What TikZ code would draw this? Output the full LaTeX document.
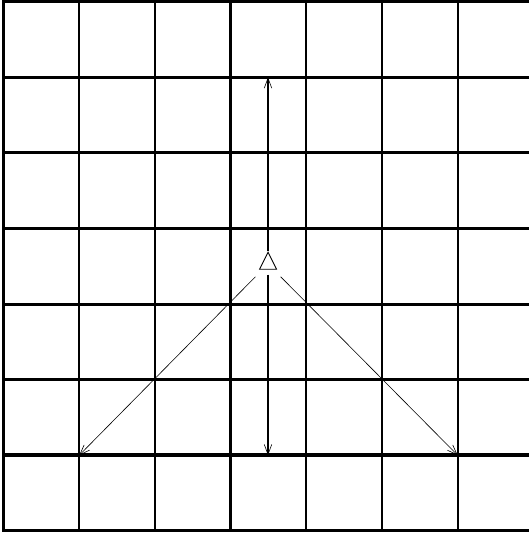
\documentclass[tikz,border=0pt]{standalone}
\usetikzlibrary{shapes.geometric,arrows.meta}
\begin{document}
\begin{tikzpicture}[x=1bp,y=-1bp,
  vgrid/.style={line width=2.3bp},
  hgrid/.style={line width=3bp},
  hgridthick/.style={line width=4bp},
  barb/.style={-{Straight Barb[length=10bp,width=7.5bp,line width=0.6bp]}},
  vert/.style={line width=2.7bp,barb},
  diag/.style={line width=0.6bp,barb},
  tri/.style={draw,fill=white,line width=0.9bp,isosceles triangle,isosceles triangle stretches,shape border rotate=90,minimum width=17bp,minimum height=17bp,inner sep=0pt}]
\useasboundingbox (0,0) rectangle (529,533);
\begin{scope}
\clip (0,0) rectangle (529,533);
% vertical grid lines
\foreach \k in {0,...,6} {
  \draw[vgrid] ({3.5+75.7*\k},0.7) -- ({3.5+75.7*\k},532);
}
% horizontal grid lines
\foreach \k in {0,1,2,3,4,5,7} {
  \draw[hgrid] (2.35,{1.7+75.6*\k}) -- (529,{1.7+75.6*\k});
}
\draw[hgridthick] (2.35,455.3) -- (529,455.3);
\end{scope}
% nodes
\coordinate (top) at (268,77.3);
\coordinate (bot) at (268,455.3);
\coordinate (bl) at (79.2,455.3);
\coordinate (br) at (457.7,455.3);
\node[tri] (t) at (268,264) {};
% connectors
\draw[vert] (t.apex) -- (top);
\draw[vert,shorten <=5bp] (t.south) -- (bot);
\draw[diag,shorten <=18bp] (t.center) -- (bl);
\draw[diag,shorten <=18bp] (t.center) -- (br);
\end{tikzpicture}
\end{document}
